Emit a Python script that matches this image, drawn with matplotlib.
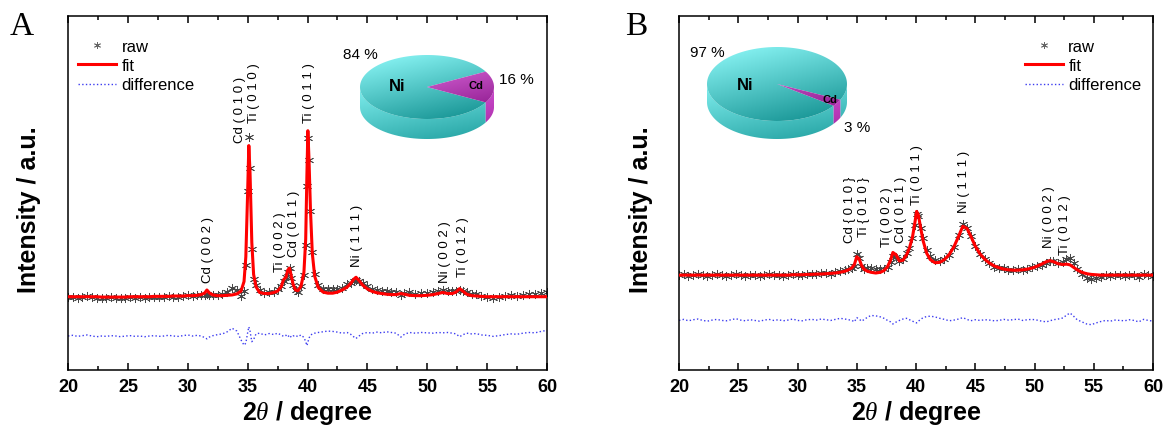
import numpy as np
import matplotlib
matplotlib.use('Agg')
import matplotlib.pyplot as plt
from matplotlib.lines import Line2D
from matplotlib.patches import Polygon
from matplotlib.colors import to_rgb
from matplotlib.ticker import MultipleLocator

plt.rcParams['font.family'] = ['Liberation Sans', 'DejaVu Sans']
plt.rcParams['mathtext.fontset'] = 'custom'
plt.rcParams['mathtext.it'] = 'Liberation Serif:italic'
plt.rcParams['mathtext.rm'] = 'Liberation Sans:bold'

# ---------------- panel A data ----------------
two_theta_a = [20.0, 20.4, 20.8, 21.2, 21.6, 22.0, 22.4, 22.8, 23.2, 23.6,
               24.0, 24.4, 24.8, 25.2, 25.6, 26.0, 26.4, 26.8, 27.2, 27.6,
               28.0, 28.4, 28.8, 29.2, 29.6, 30.0, 30.4, 30.8, 31.1, 31.4,
               31.6, 31.8, 32.1, 32.5, 32.9, 33.3, 33.7, 34.1, 34.45, 34.7,
               34.85, 35.0, 35.1, 35.2, 35.35, 35.5, 35.7, 36.0, 36.4, 36.8,
               37.2, 37.5, 37.8, 38.0, 38.2, 38.35, 38.5, 38.65, 38.8, 39.0,
               39.2, 39.45, 39.7, 39.85, 39.95, 40.03, 40.12, 40.25, 40.4, 40.6,
               40.9, 41.3, 41.7, 42.1, 42.5, 42.9, 43.3, 43.6, 43.85, 44.05,
               44.3, 44.6, 45.0, 45.4, 45.8, 46.2, 46.6, 47.0, 47.4, 47.8,
               48.1, 48.5, 49.0, 49.5, 50.0, 50.5, 50.9, 51.3, 51.7, 52.1,
               52.4, 52.7, 53.0, 53.3, 53.7, 54.1, 54.5, 55.0, 55.5, 56.0,
               56.5, 57.0, 57.5, 58.0, 58.5, 59.0, 59.5, 60.0]
fit_a = [20.7, 20.7, 20.7, 20.7, 20.7, 20.7, 20.7, 20.6, 20.6, 20.6,
         20.6, 20.6, 20.6, 20.7, 20.7, 20.7, 20.7, 20.7, 20.8, 20.8,
         20.8, 20.8, 20.9, 20.9, 20.9, 21.0, 21.0, 21.1, 21.3, 21.7,
         22.6, 21.8, 21.2, 21.0, 21.0, 21.1, 21.2, 21.5, 22.3, 25.0,
         32.0, 50.0, 63.4, 55.8, 36.0, 27.0, 23.5, 21.9, 21.6, 21.6,
         21.9, 22.3, 23.5, 25.5, 26.2, 28.2, 28.8, 26.5, 24.2, 22.6,
         22.4, 23.6, 27.5, 37.0, 55.0, 67.6, 60.0, 45.0, 33.0, 26.5,
         23.3, 22.0, 21.7, 21.7, 22.0, 22.6, 23.4, 24.4, 25.6, 26.2,
         25.3, 24.0, 22.9, 22.2, 21.8, 21.6, 21.4, 21.3, 21.3, 21.6,
         21.4, 21.1, 21.0, 21.0, 21.1, 21.3, 21.6, 21.9, 21.6, 21.6,
         22.0, 23.0, 22.2, 21.4, 21.0, 20.9, 20.8, 20.7, 20.7, 20.7,
         20.7, 20.7, 20.7, 20.7, 20.7, 20.7, 20.7, 20.7]
diff_a = [9.6, 9.8, 9.5, 9.7, 9.9, 9.6, 9.4, 9.6, 9.5, 9.7,
          9.6, 9.4, 9.6, 9.7, 9.5, 9.6, 9.4, 9.6, 9.7, 9.5,
          9.6, 9.8, 9.6, 9.5, 9.7, 9.9, 9.6, 9.8, 9.6, 9.2,
          8.8, 9.3, 9.7, 10.0, 10.2, 10.8, 11.8, 11.0, 8.5, 7.0,
          7.6, 10.5, 12.2, 11.0, 8.0, 8.6, 10.2, 10.4, 9.9, 10.3,
          10.0, 10.4, 9.9, 9.5, 9.8, 9.3, 9.9, 9.2, 9.6, 9.8,
          9.4, 9.9, 9.2, 8.0, 6.9, 7.8, 9.0, 9.8, 10.2, 10.4,
          10.6, 10.8, 11.0, 10.9, 10.7, 10.4, 10.6, 10.1, 9.4, 8.9,
          9.6, 10.3, 10.6, 10.4, 10.7, 10.5, 10.8, 10.6, 10.4, 9.3,
          10.1, 10.6, 10.4, 10.6, 10.5, 10.4, 10.6, 10.5, 10.6, 10.4,
          10.2, 9.4, 10.0, 10.4, 10.2, 10.3, 9.9, 9.8, 9.5, 9.7,
          10.0, 10.2, 10.1, 10.4, 10.6, 10.5, 10.9, 11.2]
diff_zero_a = 9.8

peak_names_a = ['Cd ( 0 0 2 )', 'Cd ( 0 1 0 )', 'Ti ( 0 1 0 )', 'Ti ( 0 0 2 )', 'Cd ( 0 1 1 )',
                'Ti ( 0 1 1 )', 'Ni ( 1 1 1 )', 'Ni ( 0 0 2 )', 'Ti ( 0 1 2 )']
peak_pos_a = [31.7, 34.35, 35.5, 37.7, 38.85, 40.1, 44.15, 51.5, 53.0]
peak_lab_y_a = [24.8, 64.3, 70.0, 28.0, 32.3, 70.0, 29.4, 24.8, 26.6]

pie_labels = ['Ni', 'Cd']
pie_a = [84, 16]

# ---------------- panel B data ----------------
two_theta_b = [20.0, 20.4, 20.8, 21.2, 21.6, 22.0, 22.4, 22.8, 23.2, 23.6,
               24.0, 24.4, 24.8, 25.2, 25.6, 26.0, 26.4, 26.8, 27.2, 27.6,
               28.0, 28.4, 28.8, 29.2, 29.6, 30.0, 30.4, 30.8, 31.2, 31.6,
               32.0, 32.4, 32.8, 33.2, 33.6, 34.0, 34.3, 34.6, 34.8, 35.0,
               35.2, 35.4, 35.6, 35.9, 36.2, 36.6, 37.0, 37.3, 37.6, 37.85,
               38.05, 38.3, 38.6, 38.9, 39.2, 39.45, 39.7, 39.9, 40.05, 40.2,
               40.4, 40.6, 40.9, 41.2, 41.6, 42.0, 42.4, 42.8, 43.2, 43.6,
               43.95, 44.3, 44.6, 45.0, 45.4, 45.8, 46.2, 46.6, 47.0, 47.4,
               47.8, 48.2, 48.6, 49.0, 49.4, 49.8, 50.2, 50.6, 51.0, 51.3,
               51.6, 52.0, 52.4, 52.7, 53.0, 53.3, 53.6, 54.0, 54.4, 54.8,
               55.2, 55.6, 56.0, 56.4, 56.8, 57.2, 57.6, 58.0, 58.4, 58.8,
               59.2, 59.6, 60.0]
fit_b = [26.8, 26.8, 26.8, 26.8, 26.8, 26.8, 26.8, 26.8, 26.8, 26.8,
         26.8, 26.8, 26.8, 26.8, 26.8, 26.8, 26.8, 26.8, 26.8, 26.8,
         26.8, 26.8, 26.8, 26.8, 26.9, 26.9, 26.9, 27.0, 27.0, 27.1,
         27.1, 27.2, 27.3, 27.4, 27.6, 27.9, 28.3, 28.9, 29.8, 32.0,
         31.4, 29.6, 28.5, 27.9, 27.6, 27.4, 27.6, 28.1, 29.2, 31.0,
         33.2, 32.6, 30.8, 31.0, 32.5, 34.5, 37.5, 41.5, 44.8, 43.8,
         40.0, 36.5, 33.0, 31.2, 30.3, 30.4, 31.2, 32.6, 34.8, 37.8,
         40.6, 40.0, 38.0, 35.0, 32.8, 31.3, 30.2, 29.4, 28.9, 28.5,
         28.3, 28.2, 28.2, 28.3, 28.5, 28.8, 29.3, 29.9, 30.6, 30.9,
         30.6, 30.0, 29.8, 29.9, 29.7, 29.0, 28.3, 27.6, 27.2, 27.0,
         26.9, 26.8, 26.8, 26.8, 26.8, 26.8, 26.8, 26.8, 26.8, 26.8,
         26.8, 26.8, 26.8]
diff_b = [14.0, 14.3, 13.9, 14.2, 14.4, 14.0, 13.8, 14.1, 14.3, 14.0,
          13.9, 14.2, 14.5, 14.1, 13.9, 14.2, 14.0, 13.8, 14.1, 14.3,
          14.0, 14.2, 13.9, 14.1, 14.4, 14.0, 13.9, 14.2, 14.3, 14.1,
          14.4, 14.2, 14.0, 14.3, 14.6, 14.4, 14.2, 14.0, 13.6, 14.8,
          14.4, 13.8, 14.2, 14.9, 15.4, 15.3, 15.0, 14.6, 14.0, 13.6,
          13.0, 13.5, 14.0, 14.4, 14.6, 14.2, 13.8, 13.5, 13.3, 13.8,
          14.3, 14.8, 15.1, 15.2, 15.0, 14.6, 14.3, 13.9, 14.1, 14.4,
          14.8, 14.3, 13.9, 14.2, 14.0, 14.2, 14.1, 13.9, 14.0, 14.3,
          14.1, 14.2, 14.4, 14.0, 14.2, 14.3, 14.1, 13.8, 13.6, 13.9,
          14.2, 14.4, 14.7, 15.5, 16.1, 15.2, 14.2, 13.6, 13.0, 12.8,
          13.3, 13.7, 14.0, 13.8, 14.1, 14.0, 13.9, 14.2, 14.0, 13.6,
          14.3, 14.0, 13.8]
diff_zero_b = 14.1

peak_names_b = ['Cd { 0 1 0 }', 'Ti { 0 1 0 }', 'Ti ( 0 0 2 )', 'Cd ( 0 1 1 )',
                'Ti ( 0 1 1 )', 'Ni ( 1 1 1 )', 'Ni ( 0 0 2 )', 'Ti ( 0 1 2 )']
peak_pos_b = [34.4, 35.6, 37.55, 38.7, 40.05, 44.05, 51.2, 52.55]
peak_lab_y_b = [36.2, 37.9, 35.0, 36.2, 46.9, 44.6, 34.7, 32.8]

pie_b = [97, 3]

# ---------------- drawing ----------------
W, H = 1165, 431
fig = plt.figure(figsize=(W / 100, H / 100), dpi=100)

raw_marker = (6, 2, 0)
raw_color = '#474747'
diff_color = '#3c3cf0'


def draw_xrd(ax, x, fit, diff, zero, names, pos, laby, leg_x):
    x = np.array(x)
    fit = np.array(fit)
    diff = np.array(diff)
    raw = fit + diff - zero
    ax.plot(x, raw, ls='none', marker=raw_marker, ms=6.5, mew=0.6, color=raw_color, zorder=2)
    ax.plot(x, fit, color='#ff0000', lw=2.2, zorder=3)
    ax.plot(x, diff, ls=':', color=diff_color, lw=1.0, zorder=2)
    for n, p, yy in zip(names, pos, laby):
        ax.text(p, yy, n, rotation=90, ha='center', va='bottom', fontsize=9.5)

    ax.set_xlim(20, 60)
    ax.set_ylim(0, 100)
    ax.set_xticks(range(20, 61, 5), labels=[str(v) for v in range(20, 61, 5)],
                  fontsize=13, fontweight='bold')
    ax.xaxis.set_minor_locator(MultipleLocator(2.5))
    ax.tick_params(axis='x', which='both', direction='in', top=True, bottom=True, width=1.1, pad=6)
    ax.tick_params(axis='x', which='major', length=5)
    ax.tick_params(axis='x', which='minor', length=3)
    ax.set_yticks([])
    for s in ax.spines.values():
        s.set_linewidth(1.1)
    ax.set_xlabel(r'2$\mathit{\theta}$ / degree', fontsize=18, fontweight='bold', labelpad=2)
    ax.text(-0.081, 0.455, 'Intensity / a.u.', transform=ax.transAxes, rotation=90,
            fontsize=18, fontweight='bold', ha='center', va='center')

    handles = [Line2D([], [], ls='none', marker=raw_marker, ms=5, mew=0.6, color='#666666'),
               Line2D([], [], color='#ff0000', lw=2.2),
               Line2D([], [], color=diff_color, ls=':', lw=1.0)]
    ax.legend(handles, ['raw', 'fit', 'difference'], loc='upper left', bbox_to_anchor=(leg_x, 0.935),
              frameon=False, fontsize=12, handlelength=2.3, handletextpad=0.3,
              labelspacing=0.25, borderpad=0, borderaxespad=0)


def grad_fill(ax, verts, c_light, c_dark, box):
    # diagonal shading: light at upper left, dark towards lower right
    verts = np.array(verts)
    poly = Polygon(verts, closed=True, facecolor='none', edgecolor='none')
    ax.add_patch(poly)
    bx0, by0, bx1, by1 = box
    c1 = np.array(to_rgb(c_light))
    c2 = np.array(to_rgb(c_dark))
    ty = np.linspace(0, 1, 60)[:, None]
    tx = np.linspace(0, 1, 60)[None, :]
    t = np.clip(0.75 * ty + 0.35 * tx, 0, 1)[:, :, None]
    img = c1 * (1 - t) + c2 * t
    im = ax.imshow(img, extent=(bx0, bx1, by1, by0), origin='upper', aspect='auto',
                   interpolation='bilinear')
    im.set_clip_path(poly)


def draw_pie3d(box, values, cx, cy, a, b, t, cd_center, texts):
    x0, y0, x1, y1 = box
    pax = fig.add_axes([x0 / W, 1 - y1 / H, (x1 - x0) / W, (y1 - y0) / H])
    pax.axis('off')
    total = float(sum(values))
    cd_span = 360 * values[1] / total
    wedges = [(cd_center + cd_span / 2, cd_center + 360 - cd_span / 2),  # Ni
              (cd_center - cd_span / 2, cd_center + cd_span / 2)]        # Cd
    top_cols = [('#90fafa', '#1a9797'), ('#f584f5', '#8e1a8e')]
    side_cols = [('#80eeee', '#2aa8a8'), ('#e060e0', '#a82aa8')]
    top_box = (cx - a, cy - b, cx + a, cy + b)
    side_box = (cx - a, cy, cx + a, cy + b + t)

    def rim(th, dy=0.0):
        r = np.radians(th)
        return np.column_stack([cx + a * np.cos(r), cy - b * np.sin(r) + dy])

    # sides (front half only)
    for (s, e), cols in zip(wedges, side_cols):
        for lo, hi in [(180, 360), (540, 720), (-180, 0)]:
            ss, ee = max(s, lo), min(e, hi)
            if ee <= ss:
                continue
            th = np.linspace(ss, ee, 80)
            verts = np.vstack([rim(th), rim(th[::-1], t)])
            grad_fill(pax, verts, cols[0], cols[1], side_box)
    # top faces
    for (s, e), cols in zip(wedges, top_cols):
        th = np.linspace(s, e, 200)
        verts = np.vstack([[cx, cy], rim(th)])
        grad_fill(pax, verts, cols[0], cols[1], top_box)

    for (tx, ty, s, fs, fw) in texts:
        pax.text(tx, ty, s, fontsize=fs, fontweight=fw, ha='center', va='center')
    pax.set_xlim(x0, x1)
    pax.set_ylim(y1, y0)


ax_a = fig.add_axes([68 / W, (H - 371) / H, (547 - 68) / W, 354 / H])
ax_b = fig.add_axes([679 / W, (H - 371) / H, (1153 - 679) / W, 354 / H])

draw_xrd(ax_a, two_theta_a, fit_a, diff_a, diff_zero_a, peak_names_a, peak_pos_a, peak_lab_y_a, 0.021)
draw_xrd(ax_b, two_theta_b, fit_b, diff_b, diff_zero_b, peak_names_b, peak_pos_b, peak_lab_y_b, 0.73)

draw_pie3d((330, 35, 560, 170), pie_a, 427, 88, 67, 32, 20, 0.0,
           [(360, 55, '%d %%' % pie_a[0], 11, 'normal'), (516, 80, '%d %%' % pie_a[1], 11, 'normal'),
            (397, 86, pie_labels[0], 12, 'bold'), (476, 86, pie_labels[1], 8, 'bold')])
draw_pie3d((688, 30, 900, 170), pie_b, 777, 85, 70, 37, 18, -30.6,
           [(707, 53, '%d %%' % pie_b[0], 11, 'normal'), (857, 128, '%d %%' % pie_b[1], 11, 'normal'),
            (745, 85, pie_labels[0], 12, 'bold'), (830, 100, pie_labels[1], 8, 'bold')])

fig.text(22 / W, 1 - 27 / H, 'A', family='Liberation Serif', fontsize=24, ha='center', va='center')
fig.text(636 / W, 1 - 27 / H, 'B', family='Liberation Serif', fontsize=24, ha='center', va='center')

fig.savefig('out.png', dpi=100)
